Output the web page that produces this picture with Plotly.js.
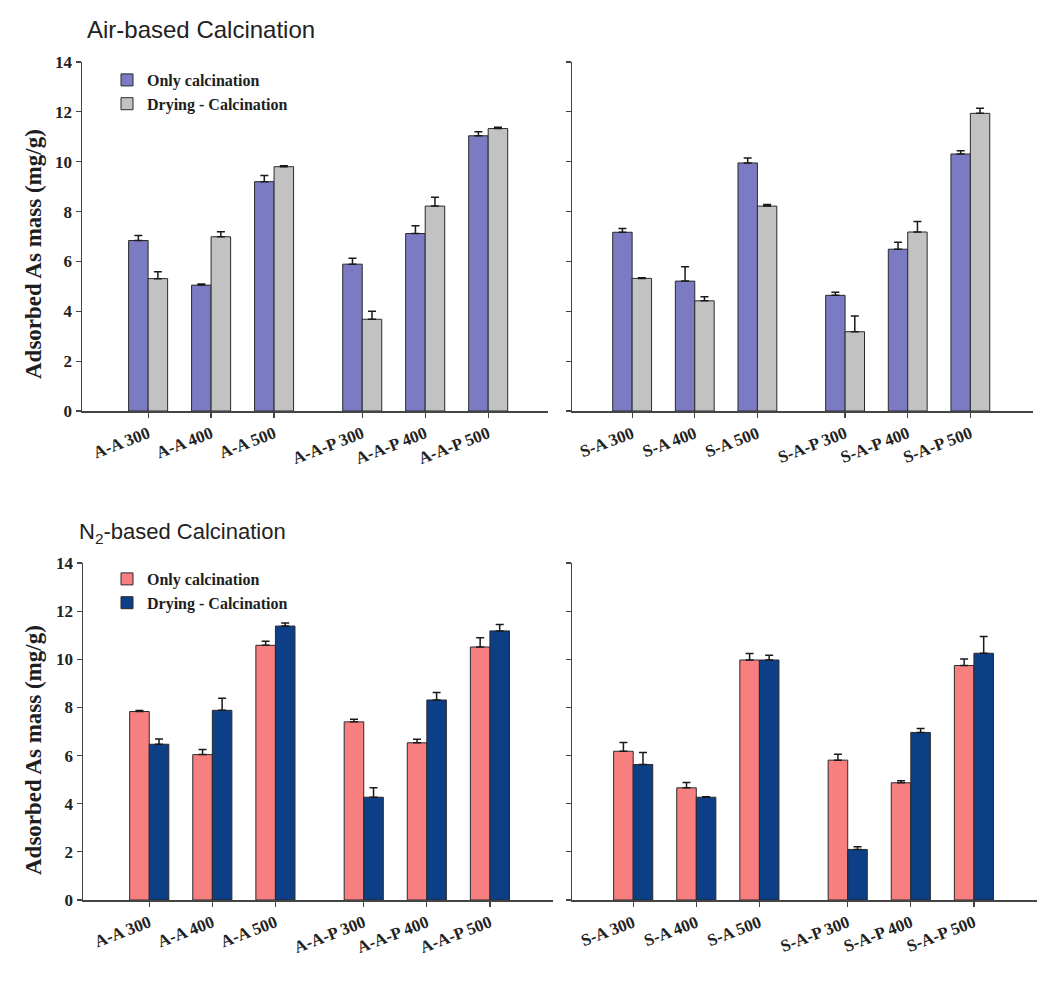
<!DOCTYPE html>
<html><head><meta charset="utf-8">
<script src="https://cdn.plot.ly/plotly-3.0.1.min.js"></script>
<style>body{margin:0;background:#fff}#chart{width:1051px;height:981px}</style>
</head><body><div id="chart"></div>
<script>
// x positions of the six groups (gap between the two families)
const positions = [1, 2, 3, 4.4, 5.4, 6.4];
const labelsA = ['A-A 300', 'A-A 400', 'A-A 500', 'A-A-P 300', 'A-A-P 400', 'A-A-P 500'];
const labelsS = ['S-A 300', 'S-A 400', 'S-A 500', 'S-A-P 300', 'S-A-P 400', 'S-A-P 500'];
const yTicks = [0, 2, 4, 6, 8, 10, 12, 14];

// Air-based calcination
const airOnlyA = [6.84, 5.05, 9.2, 5.89, 7.12, 11.04];
const airOnlyAErr = [0.2, 0.04, 0.25, 0.24, 0.31, 0.16];
const airDryA = [5.31, 6.99, 9.8, 3.68, 8.22, 11.33];
const airDryAErr = [0.28, 0.2, 0.04, 0.32, 0.35, 0.05];
const airOnlyS = [7.17, 5.21, 9.95, 4.64, 6.49, 10.31];
const airOnlySErr = [0.15, 0.58, 0.2, 0.12, 0.28, 0.13];
const airDryS = [5.32, 4.42, 8.22, 3.18, 7.18, 11.94];
const airDrySErr = [0.03, 0.16, 0.06, 0.63, 0.42, 0.2];

// N2-based calcination
const n2OnlyA = [7.83, 6.04, 10.58, 7.4, 6.53, 10.51];
const n2OnlyAErr = [0.04, 0.21, 0.17, 0.11, 0.15, 0.38];
const n2DryA = [6.47, 7.88, 11.38, 4.27, 8.31, 11.18];
const n2DryAErr = [0.22, 0.5, 0.13, 0.39, 0.31, 0.27];
const n2OnlyS = [6.18, 4.66, 9.97, 5.81, 4.87, 9.74];
const n2OnlySErr = [0.36, 0.22, 0.27, 0.25, 0.08, 0.27];
const n2DryS = [5.63, 4.27, 9.97, 2.1, 6.96, 10.25];
const n2DrySErr = [0.5, 0.02, 0.2, 0.11, 0.16, 0.7];

const seriesNames = ['Only calcination', 'Drying - Calcination'];
const colors = {purple: '#7b7bc3', gray: '#c2c2c2', pink: '#f77f7f', navy: '#0c3f86'};

const W = 1051, H = 981;
const px = v => v / W;
const py = v => 1 - v / H;
const zeros = positions.map(() => 0);

function barTrace(y, err, name, color, xa, ya, legend, show) {
  return {
    type: 'bar', x: positions, y: y, name: name,
    xaxis: xa, yaxis: ya, legend: legend, showlegend: show,
    marker: {color: color, line: {color: '#2a2a2a', width: 1}},
    error_y: {type: 'data', symmetric: false, array: err, arrayminus: zeros,
              color: '#1a1a1a', thickness: 1.5, width: 4},
    hoverinfo: 'y'
  };
}

const data = [
  barTrace(airOnlyA, airOnlyAErr, seriesNames[0], colors.purple, 'x', 'y', 'legend', true),
  barTrace(airDryA, airDryAErr, seriesNames[1], colors.gray, 'x', 'y', 'legend', true),
  barTrace(airOnlyS, airOnlySErr, seriesNames[0], colors.purple, 'x2', 'y2', 'legend', false),
  barTrace(airDryS, airDrySErr, seriesNames[1], colors.gray, 'x2', 'y2', 'legend', false),
  barTrace(n2OnlyA, n2OnlyAErr, seriesNames[0], colors.pink, 'x3', 'y3', 'legend2', true),
  barTrace(n2DryA, n2DryAErr, seriesNames[1], colors.navy, 'x3', 'y3', 'legend2', true),
  barTrace(n2OnlyS, n2OnlySErr, seriesNames[0], colors.pink, 'x4', 'y4', 'legend2', false),
  barTrace(n2DryS, n2DrySErr, seriesNames[1], colors.navy, 'x4', 'y4', 'legend2', false)
];

const serif = 'Liberation Serif, Times New Roman, serif';

function xAxis(dom, range, labels, anchor) {
  return {
    domain: dom, range: range, anchor: anchor,
    tickmode: 'array', tickvals: positions, ticktext: labels,
    tickangle: -21, ticks: 'outside', ticklen: 5, tickcolor: '#444', tickwidth: 1.2,
    showline: true, linecolor: '#444', linewidth: 1.5,
    showgrid: false, zeroline: false, fixedrange: true,
    tickfont: {family: serif, size: 17, color: '#222', weight: 'bold'}
  };
}
function yAxis(dom, anchor, showLabels) {
  return {
    domain: dom, range: [0, 14], anchor: anchor,
    tickmode: 'array', tickvals: yTicks, showticklabels: showLabels,
    ticks: 'outside', ticklen: 5, tickcolor: '#444', tickwidth: 1.2,
    showline: true, linecolor: '#444', linewidth: 1.5,
    showgrid: false, zeroline: false, fixedrange: true,
    tickfont: {family: serif, size: 17, color: '#222', weight: 'bold'}
  };
}

const topRow = [py(411), py(62)];
const botRow = [py(900), py(563)];

const legendCommon = {
  xanchor: 'left', yanchor: 'top', bgcolor: 'rgba(0,0,0,0)', borderwidth: 0,
  font: {family: serif, size: 16, color: '#1e1e1e', weight: 'bold'},
  tracegroupgap: 0, traceorder: 'normal'
};

const layout = {
  width: W, height: H,
  margin: {l: 0, r: 0, t: 0, b: 0},
  paper_bgcolor: '#fff', plot_bgcolor: '#fff',
  barmode: 'group', bargap: 0.38, bargroupgap: 0,
  xaxis: xAxis([px(82), px(548)], [-0.05, 7.35], labelsA, 'y'),
  yaxis: yAxis(topRow, 'x', true),
  xaxis2: xAxis([px(572), px(1033)], [0.04, 7.4], labelsS, 'y2'),
  yaxis2: yAxis(topRow, 'x2', false),
  xaxis3: xAxis([px(83), px(553)], [-0.05, 7.4], labelsA, 'y3'),
  yaxis3: yAxis(botRow, 'x3', true),
  xaxis4: xAxis([px(572), px(1037)], [0.03, 7.4], labelsS, 'y4'),
  yaxis4: yAxis(botRow, 'x4', false),
  legend: Object.assign({x: px(107), y: py(63)}, legendCommon),
  legend2: Object.assign({x: px(107), y: py(562)}, legendCommon),
  annotations: [
    {text: 'Air-based Calcination', xref: 'paper', yref: 'paper', x: px(85), y: py(30),
     xanchor: 'left', yanchor: 'middle', showarrow: false,
     font: {family: 'Liberation Sans, Arial, sans-serif', size: 24, color: '#222'}},
    {text: 'N<sub>2</sub>-based Calcination', xref: 'paper', yref: 'paper', x: px(77), y: py(533),
     xanchor: 'left', yanchor: 'middle', showarrow: false,
     font: {family: 'Liberation Sans, Arial, sans-serif', size: 22, color: '#222'}},
    {text: 'Adsorbed As mass (mg/g)', xref: 'paper', yref: 'paper', x: px(33), y: py(254),
     xanchor: 'center', yanchor: 'middle', textangle: -90, showarrow: false,
     font: {family: serif, size: 23, color: '#1e1e1e', weight: 'bold'}},
    {text: 'Adsorbed As mass (mg/g)', xref: 'paper', yref: 'paper', x: px(33), y: py(750),
     xanchor: 'center', yanchor: 'middle', textangle: -90, showarrow: false,
     font: {family: serif, size: 23, color: '#1e1e1e', weight: 'bold'}}
  ]
};

Plotly.newPlot('chart', data, layout, {displayModeBar: false, staticPlot: true});
</script>
</body></html>
